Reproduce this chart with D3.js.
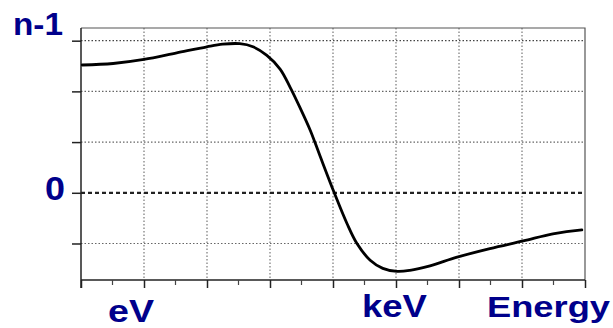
<!DOCTYPE html>
<html>
<head>
<meta charset="utf-8">
<script src="https://cdn.jsdelivr.net/npm/d3@7"></script>
<style>
  body { margin: 0; background: #fff; }
  text { font-family: "Liberation Sans", Arial, sans-serif; font-weight: bold; fill: #00008b; }
</style>
</head>
<body>
<div id="chart"></div>
<script>
// curve (x in grid columns, y in grid rows, 0 = dashed line)
const energyX = [0.02, 0.51, 1.0, 1.52, 2.0, 2.25, 2.52, 2.73, 2.95, 3.16, 3.32, 3.48, 3.64, 3.79, 4.02, 4.22, 4.38, 4.59, 4.79, 5.02, 5.22, 5.54, 5.97, 6.49, 7.02, 7.49, 7.95];
const indexY = [2.52, 2.55, 2.63, 2.76, 2.88, 2.93, 2.94, 2.88, 2.71, 2.44, 2.08, 1.67, 1.23, 0.74, 0, -0.6, -1.0, -1.33, -1.49, -1.55, -1.53, -1.44, -1.27, -1.1, -0.95, -0.81, -0.73];
const xGrid = [1, 2, 3, 4, 5, 6, 7];
const yGrid = [-1, 1, 2, 3];
const yTicks = [-1, 0, 1, 2, 3];
const xMajor = [0, 1, 2, 3, 4, 5, 6, 7, 8];
const xMinor = [0.5, 1.5, 2.5, 3.5, 4.5, 5.5, 6.5, 7.5];
const labels = ["n-1", "0", "eV", "keV", "Energy"];

const svgWidth = 613, svgHeight = 328;

let svg = d3.select("#chart").append("svg")
    .attr("width", svgWidth)
    .attr("height", svgHeight);

var x = d3.scaleLinear().domain([0, 8]).range([81, 585]);
var y = d3.scaleLinear().domain([-1.72, 3.25]).range([280, 28]);

// grid
svg.append("g").selectAll("line").data(xGrid).enter().append("line")
    .attr("x1", d => x(d)).attr("x2", d => x(d))
    .attr("y1", y.range()[1]).attr("y2", y.range()[0])
    .attr("stroke", "#777").attr("stroke-width", 1.2)
    .attr("stroke-dasharray", "1.5,2");

svg.append("g").selectAll("line").data(yGrid).enter().append("line")
    .attr("x1", x(0)).attr("x2", x(8))
    .attr("y1", d => y(d)).attr("y2", d => y(d))
    .attr("stroke", d => d == 3 ? "#444" : "#666").attr("stroke-width", 1.2)
    .attr("stroke-dasharray", "1.5,2");

// zero line
svg.append("line")
    .attr("x1", x(0)).attr("x2", x(8))
    .attr("y1", y(0)).attr("y2", y(0))
    .attr("stroke", "#222").attr("stroke-width", 2.2)
    .attr("stroke-dasharray", "4,3");

// frame top + right
svg.append("path")
    .attr("d", `M${x(0)},${y.range()[1]}H${x(8)}V${y.range()[0]}`)
    .attr("fill", "none").attr("stroke", "#555").attr("stroke-width", 1.2);

// bottom axis, major and minor ticks
svg.append("g")
    .attr("transform", `translate(0,${y.range()[0]})`)
    .call(d3.axisBottom(x).tickValues(xMajor).tickSize(8).tickFormat(""))
    .call(g => g.selectAll("line, path").attr("stroke", "#222").attr("stroke-width", 1.5))
    .call(g => g.select(".domain").attr("d", `M${x(0)},0H${x(8)}`));

svg.append("g")
    .attr("transform", `translate(0,${y.range()[0]})`)
    .selectAll("line").data(xMinor).enter().append("line")
    .attr("x1", d => x(d)).attr("x2", d => x(d))
    .attr("y1", 0).attr("y2", 5)
    .attr("stroke", "#444").attr("stroke-width", 1.2);

// left axis
svg.append("g")
    .attr("transform", `translate(${x(0)},0)`)
    .call(d3.axisLeft(y).tickValues(yTicks).tickSize(9).tickFormat(""))
    .call(g => g.selectAll("line, path").attr("stroke", "#222").attr("stroke-width", 1.5))
    .call(g => g.select(".domain").attr("d", `M0,${y.range()[1]}V${y.range()[0] + 8}`));

// the curve
let line = d3.line()
    .x((d, i) => x(energyX[i]))
    .y(d => y(d))
    .curve(d3.curveCatmullRom.alpha(0.5));

svg.append("path")
    .datum(indexY)
    .attr("d", line)
    .attr("fill", "none")
    .attr("stroke", "#000")
    .attr("stroke-width", 2.8)
    .attr("stroke-linecap", "round");

// labels: [left, baseline, width, size]
const labelPos = [
    [13, 35, 50, 31],
    [45, 200, 20, 34],
    [108, 322, 46, 32],
    [362, 317, 65, 31],
    [487, 317, 123, 30]
];
labels.forEach((t, i) => {
    let p = labelPos[i];
    svg.append("text")
        .attr("x", p[0]).attr("y", p[1])
        .attr("font-size", p[3])
        .attr("textLength", p[2])
        .attr("lengthAdjust", "spacingAndGlyphs")
        .text(t);
});
</script>
</body>
</html>
